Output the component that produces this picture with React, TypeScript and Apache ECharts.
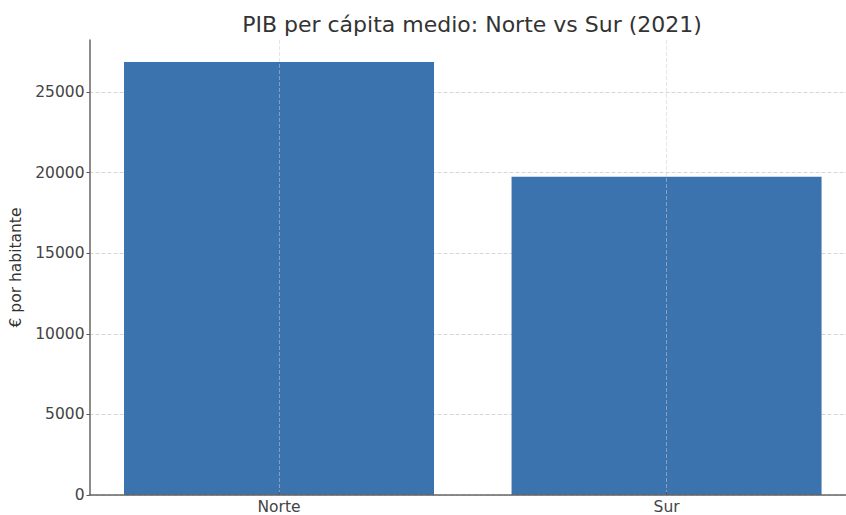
import React, { useEffect, useRef } from "react";
import * as echarts from "echarts";

const categories = ["Norte", "Sur"];
const values = [26860, 19750];
const yTicks = [0, 5000, 10000, 15000, 20000, 25000];
const titleText = "PIB per cápita medio: Norte vs Sur (2021)";
const yName = "€ por habitante";

export default function App() {
  const ref = useRef<HTMLDivElement>(null);
  useEffect(() => {
    if (!ref.current) return;
    const chart = echarts.init(ref.current, undefined, { renderer: "svg" });
    const catIdx = categories.map((_, i) => i);
    const font = "DejaVu Sans";
    const gridCommon = { left: 89.5, right: 0, top: 40, bottom: 20, outerBoundsMode: "none", containLabel: false };
    chart.setOption({
      animation: false,
      backgroundColor: "#ffffff",
      title: {
        text: titleText,
        left: 467,
        textAlign: "center",
        top: 8,
        textStyle: { fontFamily: font, fontSize: 22, fontWeight: "normal", color: "#333" },
      },
      grid: [
        { ...gridCommon, z: 0 },
        { ...gridCommon, z: 5 },
      ],
      xAxis: [
        {
          gridIndex: 0,
          type: "value",
          min: -0.489,
          max: 1.463,
          axisLine: { show: true, onZero: false, lineStyle: { color: "#666", width: 1.5 } },
          axisTick: { show: true, inside: true, length: 3, customValues: catIdx, lineStyle: { color: "#555" } },
          axisLabel: {
            customValues: catIdx,
            formatter: (v: number) => categories[Math.round(v)] ?? "",
            fontFamily: font,
            fontSize: 15.5,
            color: "#444",
            margin: 4,
          },
          splitLine: { show: false },
          z: 10,
        },
        {
          gridIndex: 1,
          type: "value",
          min: -0.489,
          max: 1.463,
          axisLine: { show: false, onZero: false },
          axisTick: { show: false, customValues: catIdx },
          axisLabel: { show: false, customValues: catIdx },
          splitLine: { show: true, lineStyle: { color: "rgba(205,205,205,0.5)", type: [4, 2], width: 1 } },
          z: 5,
        },
      ],
      yAxis: [
        {
          gridIndex: 0,
          type: "value",
          min: 0,
          max: 28230,
          name: yName,
          nameLocation: "middle",
          nameRotate: 90,
          nameGap: 56,
          nameTextStyle: { fontFamily: font, fontSize: 15.5, color: "#333" },
          axisLine: { show: true, onZero: false, lineStyle: { color: "#666", width: 1.5 } },
          axisTick: { show: true, inside: false, length: 3, customValues: yTicks, lineStyle: { color: "#555" } },
          axisLabel: {
            customValues: yTicks,
            formatter: (v: number) => String(v),
            fontFamily: font,
            fontSize: 15.5,
            color: "#444",
            margin: 5,
          },
          splitLine: { show: true, lineStyle: { color: "#d6d6d6", type: [4, 2], width: 1 } },
        },
        {
          gridIndex: 1,
          type: "value",
          min: 0,
          max: 28230,
          axisLine: { show: false, onZero: false },
          axisTick: { show: false },
          axisLabel: { show: false },
          splitLine: { show: false },
        },
      ],
      series: [
        {
          type: "bar",
          xAxisIndex: 0,
          yAxisIndex: 0,
          data: values.map((v, i) => [i, v]),
          barWidth: 310,
          itemStyle: { color: "#3a73ad" },
          z: 2,
        },
      ],
    });
    return () => chart.dispose();
  }, []);
  return <div ref={ref} style={{ width: 846, height: 515, position: "absolute", left: 0, top: 0 }} />;
}
